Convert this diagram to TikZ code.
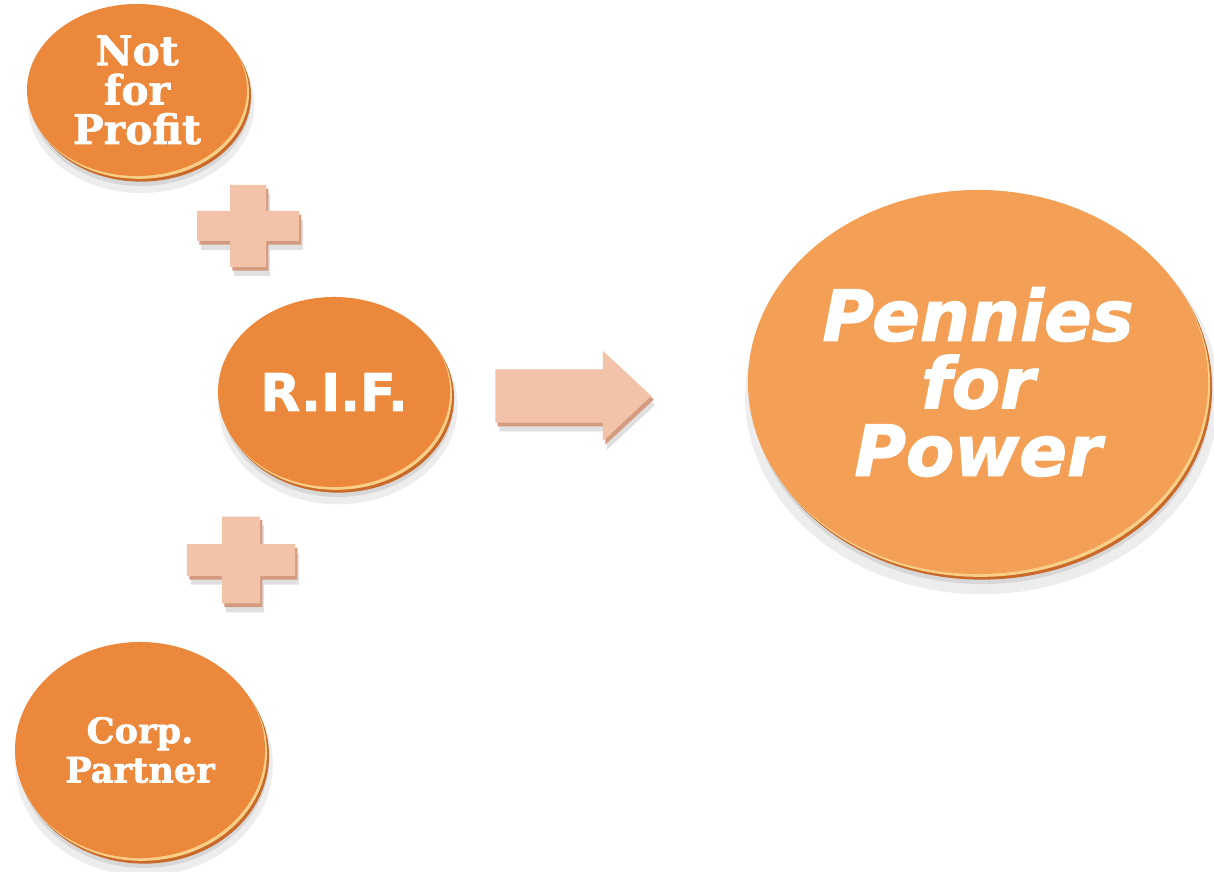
\documentclass[tikz,border=0pt]{standalone}
\usepackage{fontspec}
\newfontfamily\slabfont{DejaVu Serif}[UprightFont={* Bold}, FakeBold=1.6]
\newfontfamily\heavysans{DejaVu Sans}[UprightFont={* Bold}, FakeBold=1.6]
\newfontfamily\heavyital{DejaVu Sans}[UprightFont={* Bold Oblique}, FakeBold=1.8]
\usetikzlibrary{shapes.geometric,shapes.arrows,shadows}

\definecolor{discface}{HTML}{EC883C}
\definecolor{bigface}{HTML}{F3A056}
\definecolor{discrim}{HTML}{C9692A}
\definecolor{discglow}{HTML}{F9CF88}
\definecolor{plusface}{HTML}{F2C3A9}
\definecolor{plusside}{HTML}{D59B80}

\begin{document}
\begin{tikzpicture}[
    % pixel grid of the picture, y runs down
    x=0.025cm, y=-0.025cm,
    % Global styles
    softshadow/.style={
        drop shadow={shadow xshift=0.1cm, shadow yshift=-0.35cm, shadow scale=1.03, fill=black, opacity=0.07},
        drop shadow={shadow xshift=0.1cm, shadow yshift=-0.25cm, fill=black, opacity=0.09}},
    disc/.style={ellipse, fill=discface, text=white, align=center, inner sep=0pt,
        softshadow,
        drop shadow={shadow xshift=0.1cm, shadow yshift=-0.14cm, fill=discrim, opacity=1},
        drop shadow={shadow xshift=0.05cm, shadow yshift=-0.07cm, fill=discglow, opacity=1}},
    bigdisc/.style={disc, fill=bigface},
    plusdepth/.style={
        drop shadow={shadow xshift=0.1cm, shadow yshift=-0.22cm, fill=black, opacity=0.12},
        drop shadow={shadow xshift=0.06cm, shadow yshift=-0.09cm, fill=plusside, opacity=1}},
    blockarrow/.style={single arrow, fill=plusface, plusdepth, inner xsep=0pt, inner ysep=0.66cm,
        minimum height=3.9cm, single arrow head extend=0.46cm,
        single arrow tip angle=86},
    pics/plussign/.style={code={
        \fill[plusface, plusdepth] (-18,-41) -- (18,-41) -- (18,-15) -- (51,-15)
            -- (51,15) -- (18,15) -- (18,41) -- (-18,41) -- (-18,15)
            -- (-51,15) -- (-51,-15) -- (-18,-15) -- cycle;
    }}
    ]
    \path[use as bounding box, fill=white] (0,0) rectangle (1214,872);

    % ===========================
    % LEFT COLUMN
    % ===========================

    % Discs
    \node[disc, minimum width=5.5cm, minimum height=4.3cm,
          font=\slabfont\fontsize{29}{28}\selectfont] (nfp) at (137, 90) {Not\\for\\Profit};
    \node[disc, minimum width=5.8cm, minimum height=4.75cm,
          font=\heavysans\fontsize{37}{37}\selectfont] (rif) at (334, 392) {R.I.F.};
    \node[disc, minimum width=6.25cm, minimum height=5.4cm,
          font=\slabfont\fontsize{25}{28}\selectfont] (corp) at (140, 750) {Corp.\\Partner};

    % Plus signs
    \pic (plusA) at (248, 226) {plussign};
    \pic[scale=1.06] (plusB) at (241, 560) {plussign};

    % ===========================
    % ARROW
    % ===========================
    \node[blockarrow] (toPower) at (559, 396) {};

    % ===========================
    % RIGHT DISC
    % ===========================
    \node[bigdisc, minimum width=11.5cm, minimum height=9.6cm,
          font=\heavyital\fontsize{50}{48}\selectfont] (ppw) at (978, 382) {Pennies\\for\\Power};

\end{tikzpicture}
\end{document}
